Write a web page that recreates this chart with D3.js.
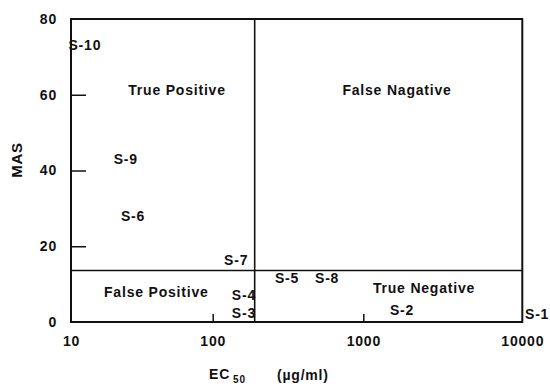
<!DOCTYPE html>
<html>
<head>
<meta charset="utf-8">
<script src="https://cdn.jsdelivr.net/npm/d3@7"></script>
<style>
  body { margin: 0; background: #fff; }
  text { font-family: "Liberation Sans", Arial, sans-serif; font-weight: bold; fill: #111; letter-spacing: 0.8px; }
</style>
</head>
<body>
<svg id="chart"></svg>
<script>
(function () {

  var width = 550, height = 386;

  // compound labels, placed at (EC50, MAS)
  var labels = ['S-10', 'S-9', 'S-6', 'S-7', 'S-4', 'S-3', 'S-5', 'S-8', 'S-2', 'S-1'];
  var ec50   = [9.6, 20, 22.5, 119, 134, 134, 259, 478, 1472, 10400];
  var mas    = [72.7, 42.8, 27.6, 15.9, 6.7, 2.1, 11.3, 11.3, 2.7, 1.8];

  // quadrant names, centred at (EC50, MAS)
  var quadNames = ['True Positive', 'False Nagative', 'False Positive', 'True Negative'];
  var quadEc50  = [56, 1630, 40, 2410];
  var quadMas   = [61, 61, 7.7, 8.6];

  // cut-offs
  var ecCut  = 190;
  var masCut = 13.6;

  var xTicks = [10, 100, 1000, 10000];
  var yTicks = [0, 20, 40, 60, 80];

  var svg = d3.select('#chart')
    .attr('width', width)
    .attr('height', height);

  // the scanned axis is slightly uneven, so each decade gets its own stretch
  var x = d3.scaleLog()
    .domain([10, 100, 1000, 10000])
    .range([71, 212.7, 363.3, 522.3]);

  var y = d3.scaleLinear()
    .domain([0, 80])
    .range([322, 19]);

  // axes
  var yAxis = svg.append('g')
    .attr('transform', 'translate(' + x(10) + ',0)')
    .call(d3.axisLeft(y).tickValues(yTicks).tickSizeInner(-15).tickSizeOuter(0).tickPadding(14));
  yAxis.select('.domain').remove();
  yAxis.selectAll('line').attr('stroke', '#111').attr('stroke-width', 1.5);
  yAxis.selectAll('text').style('font-size', '14px').attr('fill', '#111');
  yAxis.selectAll('.tick').filter(function (d) { return d === 0 || d === 80; }).select('line').remove();

  var xAxis = svg.append('g')
    .attr('transform', 'translate(0,' + y(0) + ')')
    .call(d3.axisBottom(x).tickValues(xTicks).tickFormat(d3.format('d'))
      .tickSizeInner(-8).tickSizeOuter(0).tickPadding(14));
  xAxis.select('.domain').remove();
  xAxis.selectAll('line').attr('stroke', '#111').attr('stroke-width', 1.5);
  xAxis.selectAll('text').style('font-size', '14px').attr('fill', '#111');
  xAxis.selectAll('.tick').filter(function (d) { return d === 10 || d === 10000; }).select('line').remove();

  // frame
  svg.append('rect')
    .attr('x', x(10))
    .attr('y', y(80))
    .attr('width', x(10000) - x(10))
    .attr('height', y(0) - y(80))
    .attr('fill', 'none')
    .attr('stroke', '#111')
    .attr('stroke-width', 2);

  // cut-off lines
  svg.append('line')
    .attr('x1', x(ecCut)).attr('x2', x(ecCut))
    .attr('y1', y(80)).attr('y2', y(0))
    .attr('stroke', '#111').attr('stroke-width', 1.6);

  svg.append('line')
    .attr('x1', x(10)).attr('x2', x(10000))
    .attr('y1', y(masCut)).attr('y2', y(masCut))
    .attr('stroke', '#111').attr('stroke-width', 1.6);

  // quadrant names
  svg.selectAll('.quad')
    .data(quadNames)
    .join('text')
    .attr('class', 'quad')
    .attr('x', function (d, i) { return x(quadEc50[i]); })
    .attr('y', function (d, i) { return y(quadMas[i]); })
    .attr('text-anchor', 'middle')
    .attr('dominant-baseline', 'middle')
    .style('font-size', '14px')
    .text(function (d) { return d; });

  // compound labels
  svg.selectAll('.lab')
    .data(labels)
    .join('text')
    .attr('class', 'lab')
    .attr('x', function (d, i) { return x(ec50[i]); })
    .attr('y', function (d, i) { return y(mas[i]); })
    .attr('dominant-baseline', 'middle')
    .style('font-size', '14px')
    .text(function (d) { return d; });

  // axis titles
  svg.append('text')
    .attr('transform', 'translate(18,160) rotate(-90)')
    .attr('text-anchor', 'middle')
    .attr('dominant-baseline', 'middle')
    .style('font-size', '15px')
    .text('MAS');

  var xt = svg.append('text')
    .attr('x', 209)
    .attr('y', 379)
    .style('font-size', '14px');
  xt.append('tspan').text('EC');
  xt.append('tspan').attr('dx', 3).attr('dy', 4).style('font-size', '10px').text('50');

  svg.append('text')
    .attr('x', 277)
    .attr('y', 380)
    .style('font-size', '14px')
    .text('(\u00b5g/ml)');

})();
</script>
</body>
</html>
